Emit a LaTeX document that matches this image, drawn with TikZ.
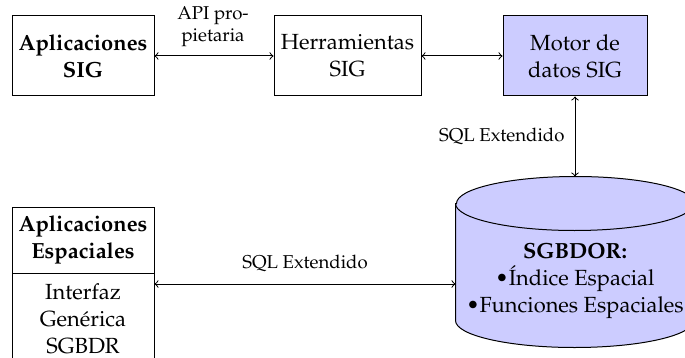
\documentclass[tikz,border=0pt]{standalone}
\usepackage[T1]{fontenc}
\usepackage{mathpazo}
\definecolor{lav}{RGB}{204,204,255}
\tikzset{
  px/.style={x=0.5pt,y=-0.5pt},
  txt/.style={font=\fontsize{10.95}{13.6}\selectfont, align=center, inner sep=0pt},
  lbl/.style={font=\fontsize{9.3}{11}\selectfont, align=center, inner sep=0pt},
  box/.style={txt, draw, minimum height=40pt},
  link/.style={<->, >=to},
}
\begin{document}
\begin{tikzpicture}[px, line width=0.5pt]
\useasboundingbox (0,0) rectangle (685,358);
\clip (0,0) rectangle (685,358);
% top row
\node[box, minimum width=71pt] (apsig) at (83,56) {\textbf{Aplicaciones}\\\textbf{SIG}};
\node[box, minimum width=73.5pt] (herr) at (347.5,56) {Herramientas\\SIG};
\node[box, fill=lav, minimum width=72pt] (motor) at (575,56) {Motor de\\datos SIG};
% database cylinder
\node[minimum width=119pt, minimum height=85pt, inner sep=0pt] (db) at (575,262) {};
\path[fill=lav, draw] ([yshift=-13.5pt]db.north west) -- ([yshift=13.5pt]db.south west)
  arc (180:360:59.5pt and 13.5pt) -- ([yshift=-13.5pt]db.north east)
  arc (0:180:59.5pt and 13.5pt) -- cycle;
\draw ([yshift=-13.5pt]db.north west) arc (180:360:59.5pt and 13.5pt);
\node[txt] (dbtxt) at (575,281) {\textbf{SGBDOR:}\\\textbullet\'Indice Espacial\\\textbullet Funciones Espaciales};
% bottom-left split box
\node[box, minimum width=71pt, minimum height=33pt] (apesp) at (83,240) {\textbf{Aplicaciones}\\\textbf{Espaciales}};
\node[box, minimum width=71pt, minimum height=46pt] (sgbdr) at (83,319) {Interfaz\\Gen\'erica\\SGBDR};
% connectors
\draw[link] (apsig) -- (herr);
\node[lbl] (api) at (213,27) {API pro-\\pietaria};
\draw[link] (herr) -- (motor);
\draw[link] (motor.south) -- node[lbl, left=5pt] (sql1) {SQL Extendido} (db.north);
\coordinate (ya) at (0,284);
\draw[link] (ya -| sgbdr.east) -- node[lbl, above=6pt] (sql2) {SQL Extendido} (ya -| db.west);
\end{tikzpicture}
\end{document}
